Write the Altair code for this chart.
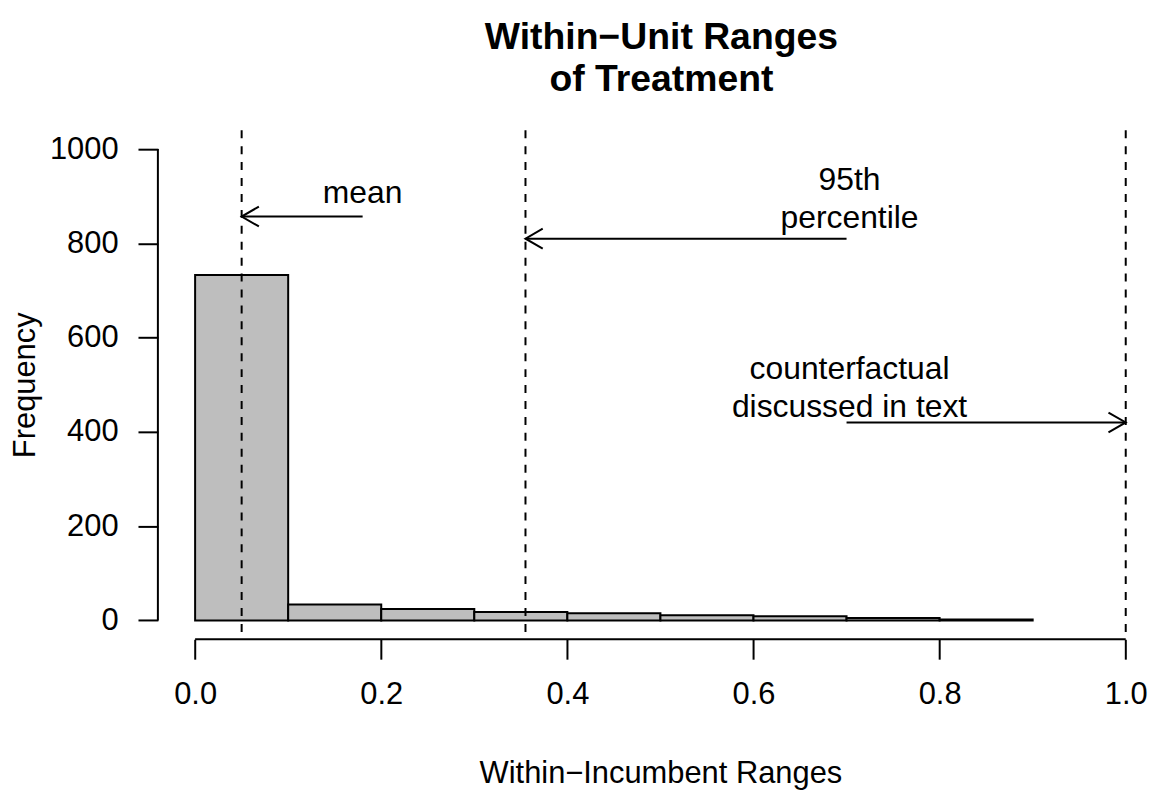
import altair as alt
import pandas as pd

# ---- data ----
bin_start = [0.0, 0.1, 0.2, 0.3, 0.4, 0.5, 0.6, 0.7, 0.8]
bin_end = [0.1, 0.2, 0.3, 0.4, 0.5, 0.6, 0.7, 0.8, 0.9]
counts = [733, 34, 24, 18, 15, 11, 9, 5, 2]

vline_x = [0.05, 0.355, 1.0]

arrow_from = [0.18, 0.70, 0.70]
arrow_to = [0.05, 0.355, 1.0]
arrow_y = [857, 810, 420]
arrow_dir = ["left", "left", "right"]

label1_x = [0.18]
label1_y = [900]
label1_text = ["mean"]

label2_x = [0.70, 0.70]
label2_y = [900, 500]
label2_text = ["95th\npercentile", "counterfactual\ndiscussed in text"]

x_ticks = [0.0, 0.2, 0.4, 0.6, 0.8, 1.0]
y_ticks = [0, 200, 400, 600, 800, 1000]

# ---- style ----
FONT = "Liberation Sans"
FS = 31
FS_ANN = 32
LH_ANN = 38
W, H = 995.8, 511.4
XDOM = [-0.04, 1.025]
YDOM = [-40, 1040]

bars = pd.DataFrame({"start": bin_start, "end": bin_end, "count": counts})
vlines = pd.DataFrame({"x": vline_x})
arrows = pd.DataFrame({"x0": arrow_from, "x1": arrow_to, "y": arrow_y, "dir": arrow_dir})
labels1 = pd.DataFrame({"x": label1_x, "y": label1_y, "text": label1_text})
labels2 = pd.DataFrame({"x": label2_x, "y": label2_y, "text": label2_text})
xaxis_line = pd.DataFrame({"a": [x_ticks[0]], "b": [x_ticks[-1]], "y": [YDOM[0]]})
yaxis_line = pd.DataFrame({"a": [y_ticks[0]], "b": [y_ticks[-1]], "x": [XDOM[0]]})

xscale = alt.Scale(domain=XDOM, nice=False, zero=False)
yscale = alt.Scale(domain=YDOM, nice=False, zero=False)

xaxis = alt.Axis(
    values=x_ticks, format=".1f", domain=False, grid=False,
    tickSize=20, tickWidth=2, tickColor="black",
    labelFontSize=FS, labelFont=FONT, labelColor="black", labelPadding=21,
    labelFlush=False, labelOverlap=False,
    title="Within\u2212Incumbent Ranges", titleFont=FONT, titleFontSize=FS,
    titleFontWeight="normal", titleColor="black",
    titleX=504.9, titleY=144, titleBaseline="alphabetic",
)
yaxis = alt.Axis(
    values=y_ticks, format="d", domain=False, grid=False,
    tickSize=20, tickWidth=2, tickColor="black",
    labelFontSize=FS, labelFont=FONT, labelColor="black", labelPadding=20,
    labelFlush=False, labelOverlap=False, labelAngle=0,
    title="Frequency", titleFont=FONT, titleFontSize=FS,
    titleFontWeight="normal", titleColor="black",
    titleX=-123.7, titleY=255.7, titleBaseline="alphabetic", titleAngle=270,
)

base_bars = alt.Chart(bars).mark_rect(
    fill="#BEBEBE", stroke="black", strokeWidth=2
).encode(
    x=alt.X("start:Q", scale=xscale, axis=xaxis),
    x2="end:Q",
    y=alt.Y("count:Q", scale=yscale, axis=yaxis),
    y2=alt.datum(0),
)

x_line = alt.Chart(xaxis_line).mark_rule(color="black", strokeWidth=2).encode(
    x="a:Q", x2="b:Q", y="y:Q"
)
y_line = alt.Chart(yaxis_line).mark_rule(color="black", strokeWidth=2).encode(
    y="a:Q", y2="b:Q", x="x:Q"
)

v_rules = alt.Chart(vlines).mark_rule(
    color="black", strokeWidth=2, strokeDash=[8, 8]
).encode(x="x:Q")

arrow_shafts = alt.Chart(arrows).mark_rule(color="black", strokeWidth=2).encode(
    x="x0:Q", x2="x1:Q", y="y:Q"
)

left_head = alt.Chart(arrows).transform_filter(alt.datum.dir == "left").mark_point(
    shape="M 1 -0.577 L 0 0 L 1 0.577", size=1200, filled=False,
    stroke="black", strokeWidth=2, opacity=1
).encode(x="x1:Q", y="y:Q")

right_head = alt.Chart(arrows).transform_filter(alt.datum.dir == "right").mark_point(
    shape="M -1 -0.577 L 0 0 L -1 0.577", size=1200, filled=False,
    stroke="black", strokeWidth=2, opacity=1
).encode(x="x1:Q", y="y:Q")

texts1 = alt.Chart(labels1).mark_text(
    font=FONT, fontSize=FS_ANN, color="black", align="center", baseline="middle",
    dy=-3
).encode(x="x:Q", y="y:Q", text="text:N")

texts2 = alt.Chart(labels2).mark_text(
    font=FONT, fontSize=FS_ANN, color="black", align="center", baseline="middle",
    lineBreak="\n", lineHeight=LH_ANN, dy=-16, dx=3
).encode(x="x:Q", y="y:Q", text="text:N")

chart = alt.layer(
    base_bars, x_line, y_line, v_rules, arrow_shafts, left_head, right_head,
    texts1, texts2
).properties(
    width=W, height=H,
    autosize=alt.AutoSizeParams(type="none"),
    padding={"left": 150.6, "top": 121, "right": 0, "bottom": 152},
    title=alt.TitleParams(
        text=["Within\u2212Unit Ranges", "of Treatment"],
        font=FONT, fontSize=37.5, fontWeight="bold", color="black",
        anchor="middle", frame="group", dx=8, offset=1, lineHeight=42,
        baseline="alphabetic",
    ),
).configure(background="white").configure_view(strokeWidth=0, stroke="transparent")

chart.save("out.html", embed_options={"renderer": "svg", "actions": False})
